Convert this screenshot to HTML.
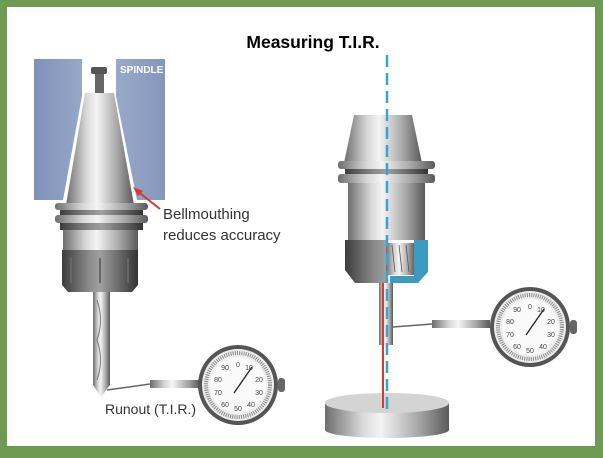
<!DOCTYPE html>
<html><head><meta charset="utf-8"><style>
html,body{margin:0;padding:0;background:#6f9a55;}
svg{display:block}
</style></head><body>
<svg width="603" height="458" viewBox="0 0 603 458" xmlns="http://www.w3.org/2000/svg" font-family="Liberation Sans, sans-serif">
<defs>
<linearGradient id="m" x1="0" x2="1" y1="0" y2="0">
<stop offset="0" stop-color="#6e6e6e"/><stop offset="0.3" stop-color="#d8d8d8"/><stop offset="0.45" stop-color="#f4f4f4"/><stop offset="0.75" stop-color="#a8a8a8"/><stop offset="1" stop-color="#5a5a5a"/></linearGradient>
<linearGradient id="d" x1="0" x2="1" y1="0" y2="0">
<stop offset="0" stop-color="#3c3c3c"/><stop offset="0.35" stop-color="#8a8a8a"/><stop offset="0.5" stop-color="#a0a0a0"/><stop offset="1" stop-color="#333"/></linearGradient>
<linearGradient id="bl" x1="0" x2="1"><stop offset="0" stop-color="#7f91b8"/><stop offset="0.5" stop-color="#9fb0cf"/><stop offset="1" stop-color="#8596bb"/></linearGradient>
<g id="dial">
<circle r="40" fill="#555"/><circle r="36" fill="#eee"/><circle r="32" fill="none" stroke="#888" stroke-width="4" stroke-dasharray="1 1.2"/>
<circle r="28" fill="#fafafa"/>
<g font-size="7" fill="#444" text-anchor="middle">
<text y="-18">0</text><text x="11" y="-15">10</text><text x="21" y="-3">20</text><text x="21" y="10">30</text><text x="13" y="22">40</text><text x="0" y="26">50</text><text x="-13" y="22">60</text><text x="-20" y="10">70</text><text x="-20" y="-3">80</text><text x="-13" y="-15">90</text></g>
<line x1="-4" y1="8" x2="14" y2="-18" stroke="#222" stroke-width="1.3"/>
<rect x="40" y="-7" width="7" height="14" rx="3" fill="#666"/>
</g>
</defs>
<rect x="7" y="7" width="588" height="439" fill="#fff"/>
<text x="313" y="48" font-size="17.5" font-weight="bold" text-anchor="middle" fill="#000">Measuring T.I.R.</text>

<!-- LEFT -->
<rect x="34" y="59" width="131" height="141" fill="url(#bl)"/>
<rect x="82" y="59" width="34" height="37" fill="#fff"/>
<polygon points="82,96 116,96 137,200 63,200" fill="#fff"/>
<rect x="91" y="67" width="16" height="7" rx="2" fill="#555"/>
<rect x="95" y="74" width="9" height="20" fill="#666"/>
<polygon points="85,93 114,93 134,205 66,205" fill="url(#m)"/>
<rect x="55" y="203" width="93" height="7" rx="3" fill="url(#m)"/>
<rect x="60" y="210" width="83" height="5" fill="url(#d)"/>
<rect x="55" y="215" width="93" height="8" rx="3" fill="url(#m)"/>
<rect x="60" y="223" width="83" height="7" fill="url(#d)"/>
<rect x="63" y="230" width="75" height="20" fill="url(#m)"/>
<path d="M62 250 H138 V285 L132 292 H68 L62 285 Z" fill="url(#d)"/>
<g stroke="#666" stroke-width="2"><line x1="71" y1="258" x2="71" y2="283"/><line x1="100" y1="258" x2="100" y2="283"/><line x1="128" y1="258" x2="128" y2="283"/></g>
<path d="M93 292 H110 V385 L101 397 L93 385 Z" fill="url(#m)"/>
<path d="M97 300 Q104 320 97 340 Q104 360 97 380" stroke="#777" fill="none"/>
<line x1="107" y1="390" x2="150" y2="384" stroke="#666" stroke-width="1.5"/>
<rect x="150" y="380" width="50" height="8" fill="url(#m)"/>
<use href="#dial" x="238" y="385"/>
<line x1="160" y1="209" x2="136" y2="190" stroke="#d8392b" stroke-width="2"/>
<polygon points="133,187 143,191 138,196" fill="#d8392b"/>
<text x="163" y="219" font-size="15" fill="#333">Bellmouthing</text>
<text x="163" y="240" font-size="15" fill="#333">reduces accuracy</text>
<text x="105" y="414" font-size="14" fill="#333">Runout (T.I.R.)</text>
<text x="120" y="73" font-size="10" font-weight="bold" fill="#fff">SPINDLE</text>

<!-- RIGHT -->
<polygon points="354,115 412,115 422,163 344,163" fill="url(#m)"/>
<rect x="338" y="161" width="97" height="8" rx="3" fill="url(#m)"/>
<rect x="345" y="169" width="83" height="5" fill="url(#d)"/>
<rect x="338" y="174" width="97" height="9" rx="3" fill="url(#m)"/>
<rect x="348" y="183" width="77" height="57" fill="url(#m)"/>
<path d="M345 240 H428 V270 L418 283 H355 L345 270 Z" fill="url(#d)"/>
<path d="M386 240 H428 V270 L418 283 H386 Z" fill="#fff"/>
<path d="M386 243 H415 V275 H386 Z" fill="url(#m)"/>
<path d="M414 240 H428 V272 L418 283 H390 V276 L414 276 Z" fill="#3d9bc2"/>
<g stroke="#555" stroke-width="0.8"><line x1="392" y1="245" x2="395" y2="272"/><line x1="399" y1="245" x2="402" y2="272"/><line x1="406" y1="245" x2="409" y2="272"/></g>
<rect x="379" y="283" width="14" height="62" fill="url(#m)"/>
<line x1="393" y1="327" x2="432" y2="324" stroke="#666" stroke-width="1.5"/>
<rect x="432" y="320" width="58" height="8" fill="url(#m)"/>
<use href="#dial" x="530" y="327"/>
<path d="M325 403 A62 10 0 0 1 449 403 V430 A62 8 0 0 1 325 430 Z" fill="url(#m)"/>
<ellipse cx="387" cy="403" rx="62" ry="10" fill="#d4d4d4"/>
<line x1="383" y1="283" x2="383" y2="408" stroke="#d8392b" stroke-width="2"/>
<line x1="387" y1="55" x2="387" y2="410" stroke="#3aa3d0" stroke-width="2.5" stroke-dasharray="12 6"/>
</svg>
</body></html>
